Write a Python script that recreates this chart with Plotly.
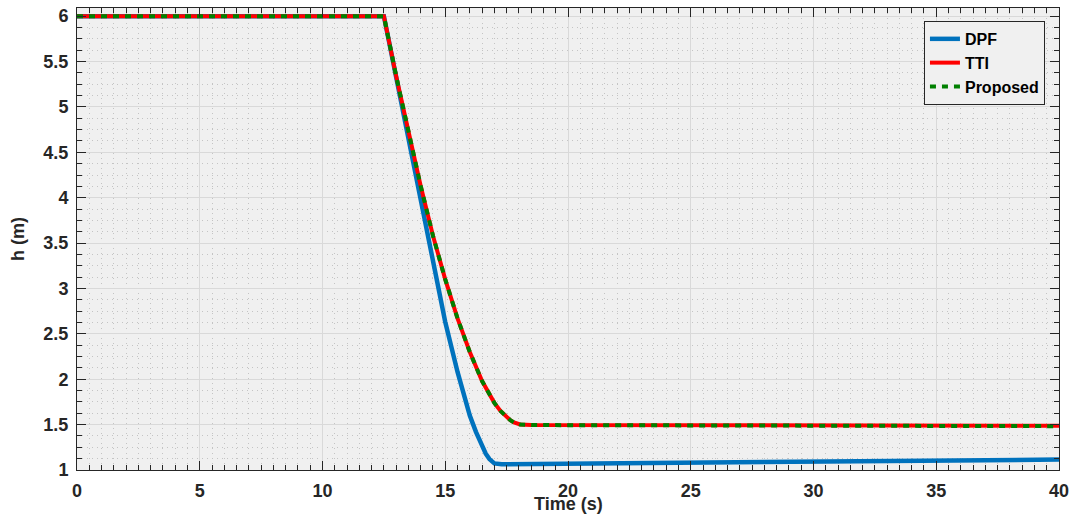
import plotly.graph_objects as go

# ---- data ----
dpf_t = [0, 12.5, 13.0, 13.5, 14.0, 14.5, 15.0, 15.5, 16.0, 16.25, 16.5, 16.65, 16.8, 16.9, 17.0, 17.3, 18, 20, 25, 30, 35, 40]
dpf_h = [6, 6, 5.33, 4.66, 3.98, 3.30, 2.63, 2.08, 1.60, 1.42, 1.26, 1.18, 1.12, 1.09, 1.072, 1.063, 1.065, 1.07, 1.08, 1.09, 1.105, 1.115]

tti_t = [0, 12.5, 13.0, 13.5, 14.0, 14.5, 15.0, 15.5, 16.0, 16.5, 17.0, 17.25, 17.5, 17.65, 17.8, 17.9, 18.05, 18.5, 25, 30, 35, 40]
tti_h = [6, 6, 5.34, 4.72, 4.13, 3.58, 3.10, 2.67, 2.30, 1.98, 1.74, 1.65, 1.58, 1.548, 1.524, 1.512, 1.502, 1.497, 1.495, 1.492, 1.49, 1.488]

prop_t = [0, 12.5, 13.0, 13.5, 14.0, 14.5, 15.0, 15.5, 16.0, 16.5, 17.0, 17.25, 17.5, 17.65, 17.8, 17.9, 18.05, 18.5, 25, 30, 35, 40]
prop_h = [6, 6, 5.34, 4.72, 4.13, 3.58, 3.10, 2.67, 2.30, 1.98, 1.74, 1.65, 1.58, 1.548, 1.524, 1.511, 1.500, 1.495, 1.49, 1.487, 1.485, 1.483]

x_ticks = [0, 5, 10, 15, 20, 25, 30, 35, 40]
y_ticks = [1, 1.5, 2, 2.5, 3, 3.5, 4, 4.5, 5, 5.5, 6]
y_labels = ["1", "1.5", "2", "2.5", "3", "3.5", "4", "4.5", "5", "5.5", "6"]

FONT = "Liberation Sans, Arial, sans-serif"
DARK = "#262626"

fig = go.Figure()
fig.add_trace(go.Scatter(x=dpf_t, y=dpf_h, mode="lines", name="DPF",
                         line=dict(color="#0072BD", width=4.5)))
fig.add_trace(go.Scatter(x=tti_t, y=tti_h, mode="lines", name="TTI",
                         line=dict(color="#FF0000", width=4)))
fig.add_trace(go.Scatter(x=prop_t, y=prop_h, mode="lines", name="Proposed",
                         line=dict(color="#008000", width=4, dash="6px,6px")))

axis_common = dict(
    showline=True, linecolor=DARK, linewidth=1, mirror="ticks",
    ticks="inside", ticklen=9, tickwidth=1, tickcolor=DARK,
    showgrid=True, gridcolor="#d9d9d9", gridwidth=1,
    zeroline=False, automargin=False, ticklabeloverflow="allow",
    tickfont=dict(family=FONT, size=18, color=DARK, weight="bold"),
)

minor_grid = dict(ticks="inside", ticklen=5, tickcolor=DARK,
                  showgrid=True, gridcolor="#c4c4c4", griddash="1px,4px", gridwidth=1)

fig.update_xaxes(
    range=[0, 40], tickvals=x_ticks, ticktext=[str(v) for v in x_ticks],
    minor=dict(dtick=0.5, tick0=0, **minor_grid),
    ticklabelstandoff=4,
    **axis_common,
)
fig.update_yaxes(
    range=[1, 6.09], tickvals=y_ticks, ticktext=y_labels,
    minor=dict(dtick=0.125, tick0=1, **minor_grid),
    ticklabelstandoff=4,
    **axis_common,
)

fig.add_annotation(text="Time (s)", xref="paper", yref="paper", x=0.5, y=-0.073,
                   xanchor="center", yanchor="middle", showarrow=False,
                   font=dict(family=FONT, size=18, color=DARK, weight="bold"))
fig.add_annotation(text="h (m)", xref="paper", yref="paper", x=-0.060, y=0.5,
                   xanchor="center", yanchor="middle", showarrow=False, textangle=-90,
                   font=dict(family=FONT, size=18, color=DARK, weight="bold"))

fig.update_layout(
    width=1072, height=515,
    margin=dict(l=77, r=13, t=8, b=45, autoexpand=False),
    paper_bgcolor="white", plot_bgcolor="#f0f0f0",
    showlegend=True,
    legend=dict(x=0.9857, y=0.972, xanchor="right", yanchor="top",
                bgcolor="#f0f0f0", bordercolor=DARK, borderwidth=1,
                font=dict(family=FONT, size=16, color="black", weight="bold"),
                tracegroupgap=0, itemwidth=30),
)

# remove the default 8px page margin so the figure fills the window exactly
fig.write_html("out.html",
               config={"displayModeBar": False},
               post_script="document.body.style.margin='0';document.body.style.overflow='hidden';")
